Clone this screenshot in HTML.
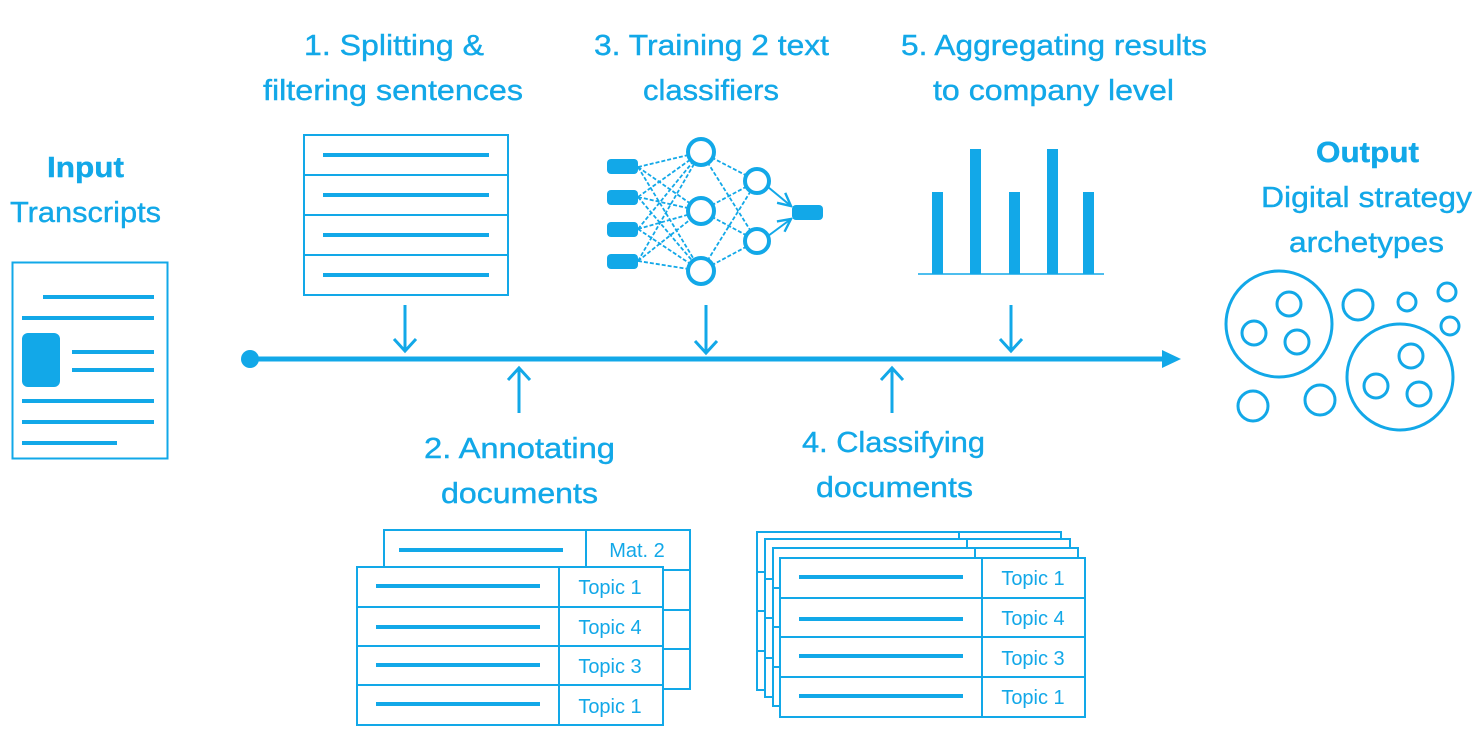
<!DOCTYPE html>
<html><head><meta charset="utf-8"><style>
html,body{margin:0;padding:0;background:#fff;}
svg{display:block;}
text{font-family:"Liberation Sans",sans-serif;fill:#12a8e8;}
.h text{stroke:#12a8e8;stroke-width:0.4;}
</style></head><body>
<svg width="1481" height="736" viewBox="0 0 1481 736" xmlns="http://www.w3.org/2000/svg">
<defs>
<marker id="ah" viewBox="0 0 10 10" refX="9" refY="5" markerWidth="8" markerHeight="8" orient="auto"><path d="M1,1 L9,5 L1,9" fill="none" stroke="#12a8e8" stroke-width="1.5"/></marker>
</defs>
<g stroke="#12a8e8" fill="none">
<rect x="12.5" y="262.5" width="155" height="196" stroke-width="2"/>
<g stroke-width="4">
<line x1="43" y1="297" x2="154" y2="297"/>
<line x1="22" y1="318" x2="154" y2="318"/>
<line x1="72" y1="352" x2="154" y2="352"/>
<line x1="72" y1="370" x2="154" y2="370"/>
<line x1="22" y1="401" x2="154" y2="401"/>
<line x1="22" y1="422" x2="154" y2="422"/>
<line x1="22" y1="443" x2="117" y2="443"/>
</g>
<rect x="22" y="333" width="38" height="54" rx="6" fill="#12a8e8" stroke="none"/>
<line x1="250" y1="359" x2="1166" y2="359" stroke-width="5"/>
<circle cx="250" cy="359" r="9" fill="#12a8e8" stroke="none"/>
<polygon points="1162,350 1181,359 1162,368" fill="#12a8e8" stroke="none"/>
<g stroke-width="3">
<line x1="405" y1="305" x2="405" y2="350"/><polyline points="394,339 405,351 416,339"/>
<line x1="706" y1="305" x2="706" y2="352"/><polyline points="695,341 706,353 717,341"/>
<line x1="1011" y1="305" x2="1011" y2="350"/><polyline points="1000,339 1011,351 1022,339"/>
<line x1="519" y1="369" x2="519" y2="413"/><polyline points="508,380 519,368 530,380"/>
<line x1="892" y1="369" x2="892" y2="413"/><polyline points="881,380 892,368 903,380"/>
</g>
<g stroke-width="2">
<rect x="304" y="135" width="204" height="160"/>
<line x1="304" y1="175" x2="508" y2="175"/>
<line x1="304" y1="215" x2="508" y2="215"/>
<line x1="304" y1="255" x2="508" y2="255"/>
</g>
<g stroke-width="4">
<line x1="323" y1="155" x2="489" y2="155"/>
<line x1="323" y1="195" x2="489" y2="195"/>
<line x1="323" y1="235" x2="489" y2="235"/>
<line x1="323" y1="275" x2="489" y2="275"/>
</g>
<g stroke-width="1.8" stroke-dasharray="4,2">
<path d="M638,167 L701,152 M638,167 L701,211 M638,167 L701,271 M638,197 L701,152 M638,197 L701,211 M638,197 L701,271 M638,229 L701,152 M638,229 L701,211 M638,229 L701,271 M638,261 L701,152 M638,261 L701,211 M638,261 L701,271"/>
<path d="M701,152 L757,181 M701,152 L757,241 M701,211 L757,181 M701,211 L757,241 M701,271 L757,181 M701,271 L757,241"/>
</g>
<g stroke-width="2">
<line x1="768" y1="187" x2="791" y2="206" marker-end="url(#ah)"/>
<line x1="768" y1="236" x2="791" y2="219" marker-end="url(#ah)"/>
</g>
<g fill="#12a8e8" stroke="none">
<rect x="607" y="159" width="31" height="15" rx="4"/>
<rect x="607" y="190" width="31" height="15" rx="4"/>
<rect x="607" y="222" width="31" height="15" rx="4"/>
<rect x="607" y="254" width="31" height="15" rx="4"/>
<rect x="792" y="205" width="31" height="15" rx="4"/>
</g>
<g stroke-width="4" fill="#fff">
<circle cx="701" cy="152" r="13"/>
<circle cx="701" cy="211" r="13"/>
<circle cx="701" cy="271" r="13"/>
<circle cx="757" cy="181" r="12"/>
<circle cx="757" cy="241" r="12"/>
</g>
<line x1="918" y1="274" x2="1104" y2="274" stroke-width="1.5"/>
<g fill="#12a8e8" stroke="none">
<rect x="932" y="192" width="11" height="82"/>
<rect x="970" y="149" width="11" height="125"/>
<rect x="1009" y="192" width="11" height="82"/>
<rect x="1047" y="149" width="11" height="125"/>
<rect x="1083" y="192" width="11" height="82"/>
</g>
<g stroke-width="3">
<circle cx="1279" cy="324" r="53"/>
<circle cx="1400" cy="377" r="53"/>
<circle cx="1289" cy="304" r="12"/>
<circle cx="1254" cy="333" r="12"/>
<circle cx="1297" cy="342" r="12"/>
<circle cx="1358" cy="305" r="15"/>
<circle cx="1407" cy="302" r="9"/>
<circle cx="1447" cy="292" r="9"/>
<circle cx="1450" cy="326" r="9"/>
<circle cx="1411" cy="356" r="12"/>
<circle cx="1376" cy="386" r="12"/>
<circle cx="1419" cy="394" r="12"/>
<circle cx="1253" cy="406" r="15"/>
<circle cx="1320" cy="400" r="15"/>
</g>
<g stroke-width="2" fill="#fff">
<rect x="384" y="530" width="306" height="159"/>
<line x1="586" y1="530" x2="586" y2="567"/>
<line x1="663" y1="570" x2="690" y2="570"/>
<line x1="663" y1="610" x2="690" y2="610"/>
<line x1="663" y1="649" x2="690" y2="649"/>
<rect x="357" y="567" width="306" height="158"/>
<line x1="357" y1="607" x2="663" y2="607"/>
<line x1="357" y1="646" x2="663" y2="646"/>
<line x1="357" y1="685" x2="663" y2="685"/>
<line x1="559" y1="567" x2="559" y2="725"/>
</g>
<g stroke-width="4">
<line x1="399" y1="550" x2="563" y2="550"/>
<line x1="376" y1="586" x2="540" y2="586"/>
<line x1="376" y1="627" x2="540" y2="627"/>
<line x1="376" y1="665" x2="540" y2="665"/>
<line x1="376" y1="704" x2="540" y2="704"/>
</g>
<g stroke-width="2" fill="#fff">
<rect x="757" y="532" width="304" height="158"/>
<line x1="959" y1="532" x2="959" y2="545"/>
<rect x="765" y="539" width="305" height="158"/>
<line x1="967" y1="539" x2="967" y2="552"/>
<rect x="773" y="548" width="305" height="158"/>
<line x1="975" y1="548" x2="975" y2="558"/>
<rect x="780" y="558" width="305" height="159"/>
<line x1="780" y1="598" x2="1085" y2="598"/>
<line x1="780" y1="637" x2="1085" y2="637"/>
<line x1="780" y1="677" x2="1085" y2="677"/>
<line x1="982" y1="558" x2="982" y2="717"/>
</g>
<g stroke-width="2">
<line x1="757" y1="572" x2="765" y2="572"/><line x1="757" y1="611" x2="765" y2="611"/><line x1="757" y1="651" x2="765" y2="651"/>
<line x1="765" y1="579" x2="773" y2="579"/><line x1="765" y1="618" x2="773" y2="618"/><line x1="765" y1="658" x2="773" y2="658"/>
<line x1="773" y1="588" x2="780" y2="588"/><line x1="773" y1="627" x2="780" y2="627"/><line x1="773" y1="667" x2="780" y2="667"/>
</g>
<g stroke-width="4">
<line x1="799" y1="577" x2="963" y2="577"/>
<line x1="799" y1="619" x2="963" y2="619"/>
<line x1="799" y1="656" x2="963" y2="656"/>
<line x1="799" y1="696" x2="963" y2="696"/>
</g>
</g>
<g class="h" font-size="29" lengthAdjust="spacingAndGlyphs">
<text x="304" y="55" textLength="180" lengthAdjust="spacingAndGlyphs">1. Splitting &amp;</text>
<text x="263" y="100" textLength="260" lengthAdjust="spacingAndGlyphs">filtering sentences</text>
<text x="594" y="55" textLength="235" lengthAdjust="spacingAndGlyphs">3. Training 2 text</text>
<text x="643" y="100" textLength="136" lengthAdjust="spacingAndGlyphs">classifiers</text>
<text x="901" y="55" textLength="306" lengthAdjust="spacingAndGlyphs">5. Aggregating results</text>
<text x="933" y="100" textLength="241" lengthAdjust="spacingAndGlyphs">to company level</text>
<text x="47" y="177" textLength="77" lengthAdjust="spacingAndGlyphs" font-weight="bold">Input</text>
<text x="10" y="222" textLength="151" lengthAdjust="spacingAndGlyphs">Transcripts</text>
<text x="1316" y="162" textLength="103" lengthAdjust="spacingAndGlyphs" font-weight="bold">Output</text>
<text x="1261" y="207" textLength="211" lengthAdjust="spacingAndGlyphs">Digital strategy</text>
<text x="1289" y="252" textLength="155" lengthAdjust="spacingAndGlyphs">archetypes</text>
<text x="424" y="458" textLength="191" lengthAdjust="spacingAndGlyphs">2. Annotating</text>
<text x="441" y="503" textLength="157" lengthAdjust="spacingAndGlyphs">documents</text>
<text x="802" y="452" textLength="183" lengthAdjust="spacingAndGlyphs">4. Classifying</text>
<text x="816" y="497" textLength="157" lengthAdjust="spacingAndGlyphs">documents</text>
</g>
<g font-size="20" text-anchor="middle">
<text x="637" y="557">Mat. 2</text>
<text x="610" y="594">Topic 1</text>
<text x="610" y="634">Topic 4</text>
<text x="610" y="673">Topic 3</text>
<text x="610" y="713">Topic 1</text>
<text x="1033" y="585">Topic 1</text>
<text x="1033" y="625">Topic 4</text>
<text x="1033" y="665">Topic 3</text>
<text x="1033" y="704">Topic 1</text>
</g>
</svg>
</body></html>
